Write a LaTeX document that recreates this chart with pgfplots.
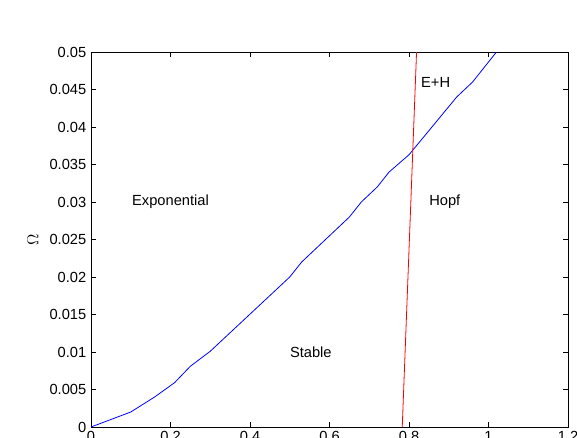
\documentclass[border=0pt]{standalone}
\usepackage{fontspec}
\setmainfont{Liberation Sans}
\usepackage{pgfplots}
\pgfplotsset{compat=1.18}

\begin{document}
\begin{tikzpicture}[x=0.75pt, y=0.75pt]
    % the reference is a crop: 577 x 437 px, axis box at 91..568 x 52..427
    \useasboundingbox (-91, -10) rectangle (486, 427);
    \begin{axis}[
        at={(0, 0)}, anchor=south west,
        scale only axis, width=357.75pt, height=281.25pt,
        xmin=0, xmax=1.2, ymin=0, ymax=0.05,
        xtick={0, 0.2, 0.4, 0.6, 0.8, 1, 1.2},
        ytick={0, 0.005, 0.01, 0.015, 0.02, 0.025, 0.03, 0.035, 0.04,
            0.045, 0.05},
        scaled y ticks=false,
        tick align=inside, major tick length=3.75pt,
        axis line style={line width=.6pt},
        tick style={line width=.6pt, black},
        tick label style={font=\fontsize{11}{13}\selectfont},
        /pgf/number format/.cd, fixed, precision=3, assume math mode=true,
        /pgfplots/.cd,
        ylabel={$\Omega$},
        % the label is rotated, so its own y points to the left
        ylabel style={at={(axis description cs:0, .5)}, anchor=center,
            yshift=43.5pt, font=\fontsize{13}{15}\selectfont},
    ]
        % boundary between exponential and stable growth
        \addplot[blue, line width=.6pt] coordinates {
            (0,0) (0.1,0.002) (0.16,0.004) (0.21,0.0059) (0.25,0.0081)
            (0.3,0.0101) (0.5,0.02) (0.53,0.022) (0.65,0.028) (0.68,0.03)
            (0.72,0.032) (0.75,0.034) (0.8,0.0363) (0.92,0.044)
            (0.96,0.046) (1.02,0.05)};
        % Hopf boundary
        \addplot[red, line width=.6pt] coordinates {(0.783,0) (0.819,0.05)};

        \begin{scope}[every node/.style={font=\fontsize{11}{13}\selectfont}]
            \node at (axis cs:0.2, 0.03) {Exponential};
            \node at (axis cs:0.553, 0.0099) {Stable};
            \node at (axis cs:0.89, 0.03) {Hopf};
            \node at (axis cs:0.867, 0.046) {E+H};
        \end{scope}
    \end{axis}
\end{tikzpicture}
\end{document}
